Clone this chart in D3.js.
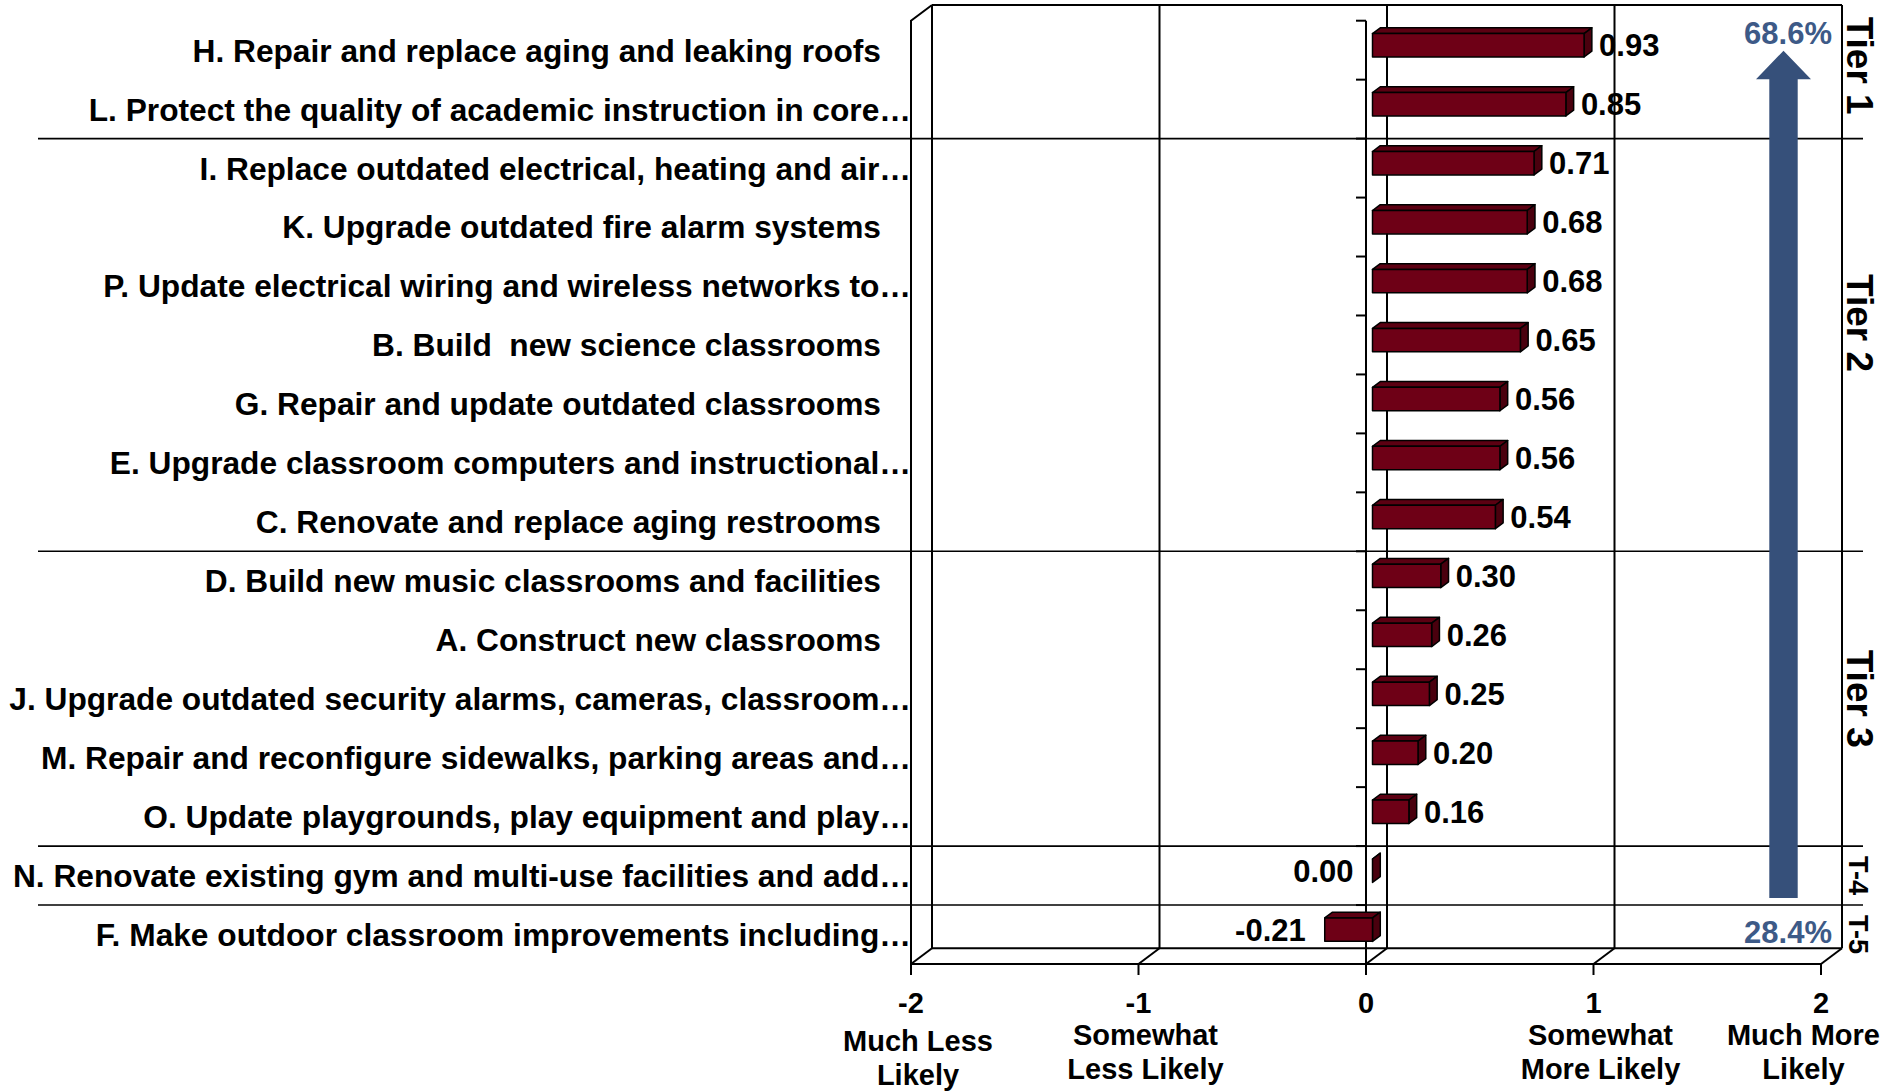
<!DOCTYPE html>
<html>
<head>
<meta charset="utf-8">
<script src="https://cdn.jsdelivr.net/npm/d3@7"></script>
<style>
	body { margin: 0; background: #fff; }
	svg text { font-family: "Liberation Sans", Arial, sans-serif; font-weight: bold; white-space: pre; }
</style>
</head>
<body>
<div id="chart"></div>
<script>
const categories = [
	"H. Repair and replace aging and leaking roofs",
	"L. Protect the quality of academic instruction in core…",
	"I. Replace outdated electrical, heating and air…",
	"K. Upgrade outdated fire alarm systems",
	"P. Update electrical wiring and wireless networks to…",
	"B. Build  new science classrooms",
	"G. Repair and update outdated classrooms",
	"E. Upgrade classroom computers and instructional…",
	"C. Renovate and replace aging restrooms",
	"D. Build new music classrooms and facilities",
	"A. Construct new classrooms",
	"J. Upgrade outdated security alarms, cameras, classroom…",
	"M. Repair and reconfigure sidewalks, parking areas and…",
	"O. Update playgrounds, play equipment and play…",
	"N. Renovate existing gym and multi-use facilities and add…",
	"F. Make outdoor classroom improvements including…"
];
const values = [0.93, 0.85, 0.71, 0.68, 0.68, 0.65, 0.56, 0.56, 0.54, 0.30, 0.26, 0.25, 0.20, 0.16, 0.00, -0.21];

const tierNames = ["Tier 1", "Tier 2", "Tier 3", "T-4", "T-5"];
const tierEnds = [2, 9, 14, 15, 16];

const xTicks = [-2, -1, 0, 1, 2];
const xTickNotes = [["Much Less", "Likely"], ["Somewhat", "Less Likely"], [], ["Somewhat", "More Likely"], ["Much More", "Likely"]];

const shareLabels = ["68.6%", "28.4%"];

(function() {
	const width = 1885,
		height = 1091,
		depth = { x: 21, y: -15.7 },
		barFront = 0.31,
		barBack = 0.68,
		barHeight = 23.4,
		blue = "#36507a";

	const x = d3.scaleLinear().domain([-2, 2]).range([911, 1821]);
	const y = d3.scaleBand().domain(categories).range([20.7, 964]);
	const bw = y.bandwidth(),
		top = y.range()[0],
		bottom = y.range()[1];

	const svg = d3.select("#chart")
		.append("svg")
		.attr("width", width)
		.attr("height", height);

	// 3d frame: back wall gridlines, floor, left wall
	const frame = svg.append("g")
		.attr("fill", "none")
		.attr("stroke", "#000")
		.attr("stroke-width", 2);

	xTicks.forEach(t => {
		frame.append("line")
			.attr("x1", x(t) + depth.x).attr("x2", x(t) + depth.x)
			.attr("y1", top + depth.y).attr("y2", bottom + depth.y);
		frame.append("line")
			.attr("x1", x(t)).attr("y1", bottom)
			.attr("x2", x(t) + depth.x).attr("y2", bottom + depth.y);
		frame.append("line")
			.attr("x1", x(t)).attr("x2", x(t))
			.attr("y1", bottom).attr("y2", bottom + 11);
	});
	frame.append("line")
		.attr("x1", x(-2) + depth.x).attr("x2", x(2) + depth.x)
		.attr("y1", top + depth.y).attr("y2", top + depth.y);
	frame.append("line")
		.attr("x1", x(-2) + depth.x).attr("x2", x(2) + depth.x)
		.attr("y1", bottom + depth.y).attr("y2", bottom + depth.y);
	frame.append("line")
		.attr("x1", x(-2)).attr("x2", x(2))
		.attr("y1", bottom).attr("y2", bottom);
	frame.append("path")
		.attr("d", `M${x(-2) + depth.x},${top + depth.y}L${x(-2)},${top}L${x(-2)},${bottom}`);

	// front value axis at zero
	frame.append("line")
		.attr("x1", x(0)).attr("x2", x(0))
		.attr("y1", top).attr("y2", bottom);
	d3.range(categories.length + 1).forEach(i => {
		frame.append("line")
			.attr("x1", x(0) - 10).attr("x2", x(0))
			.attr("y1", top + i * bw).attr("y2", top + i * bw);
	});

	// tier separators
	svg.append("g")
		.selectAll("line")
		.data(tierEnds.slice(0, -1))
		.join("line")
		.attr("x1", 38)
		.attr("x2", 1863)
		.attr("y1", d => top + d * bw)
		.attr("y2", d => top + d * bw)
		.attr("stroke", "#000")
		.attr("stroke-width", 1.6);

	// bars
	const bars = svg.append("g")
		.attr("stroke", "#000")
		.attr("stroke-width", 1.5)
		.attr("stroke-linejoin", "round");

	categories.forEach((c, i) => {
		const v = values[i],
			x0 = Math.min(x(0), x(v)),
			x1 = Math.max(x(0), x(v)),
			y0 = y(c) + bw / 2 - barHeight / 2,
			y1 = y0 + barHeight;
		const p = (px, py, d) => [px + depth.x * d, py + depth.y * d];
		const poly = pts => "M" + pts.map(q => q.join(",")).join("L") + "Z";

		bars.append("path")
			.attr("fill", "#5c0012")
			.attr("d", poly([p(x0, y0, barFront), p(x1, y0, barFront), p(x1, y0, barBack), p(x0, y0, barBack)]));
		bars.append("path")
			.attr("fill", "#4a000e")
			.attr("d", poly([p(x1, y0, barFront), p(x1, y0, barBack), p(x1, y1, barBack), p(x1, y1, barFront)]));
		if (x1 > x0) {
			bars.append("rect")
				.attr("fill", "#6e0016")
				.attr("x", x0 + depth.x * barFront)
				.attr("y", y0 + depth.y * barFront)
				.attr("width", x1 - x0)
				.attr("height", barHeight);
		}

		const cy = y(c) + bw / 2 + depth.y * barFront;
		svg.append("text")
			.attr("x", v > 0 ? x1 + depth.x * barFront + 15 : x0 + depth.x * barFront - 19)
			.attr("y", cy)
			.attr("dy", "0.36em")
			.attr("text-anchor", v > 0 ? "start" : "end")
			.style("font-size", "31px")
			.text(v.toFixed(2));
	});

	// category labels
	svg.append("g")
		.selectAll("text")
		.data(categories)
		.join("text")
		.attr("x", d => d.endsWith("…") ? 911 : 881)
		.attr("y", d => y(d) + bw / 2)
		.attr("dy", "0.36em")
		.attr("text-anchor", "end")
		.style("font-size", "31.7px")
		.text(d => d);

	// tier labels on the right (first two sit a bit above their band centre)
	const tierShift = [-14, -22, 0, 0, 0];
	let start = 0;
	tierNames.forEach((t, i) => {
		const cy = top + (start + tierEnds[i]) / 2 * bw + tierShift[i];
		const big = t.startsWith("Tier");
		svg.append("text")
			.attr("transform", `translate(${big ? 1847 : 1849},${cy}) rotate(90)`)
			.attr("text-anchor", "middle")
			.style("font-size", big ? "37px" : "27px")
			.text(t);
		start = tierEnds[i];
	});

	// arrow
	const ax = x(2) + depth.x - 58.5,
		aTop = top + 30,
		aBottom = y(categories[14]) + 52;
	svg.append("path")
		.attr("fill", blue)
		.attr("d", `M${ax},${aTop}L${ax + 27.5},${aTop + 28.5}L${ax + 14.2},${aTop + 28.5}L${ax + 14.2},${aBottom}` +
			`L${ax - 14.2},${aBottom}L${ax - 14.2},${aTop + 28.5}L${ax - 27.5},${aTop + 28.5}Z`);

	svg.selectAll(".share")
		.data(shareLabels)
		.join("text")
		.attr("class", "share")
		.attr("x", 1832)
		.attr("y", (d, i) => i === 0 ? top + 23.5 : y(categories[15]) + 38)
		.attr("text-anchor", "end")
		.attr("fill", "#3d5a87")
		.style("font-size", "31px")
		.text(d => d);

	// x axis labels
	xTicks.forEach((t, i) => {
		svg.append("text")
			.attr("x", x(t))
			.attr("y", 1013)
			.attr("text-anchor", "middle")
			.style("font-size", "29px")
			.text(t);
		const notes = xTickNotes[i];
		if (!notes.length) return;
		const g = svg.append("g");
		notes.forEach((n, j) => {
			g.append("text")
				.attr("y", 1045 + j * 34)
				.attr("text-anchor", "middle")
				.style("font-size", "29px")
				.text(n);
		});
		const w = d3.max(g.selectAll("text").nodes(), n => n.getComputedTextLength());
		const cx = Math.min(x(t) + 7, width - 5 - w / 2);
		g.attr("transform", `translate(${cx},${i === 0 ? 6 : 0})`);
	});
})();
</script>
</body>
</html>
